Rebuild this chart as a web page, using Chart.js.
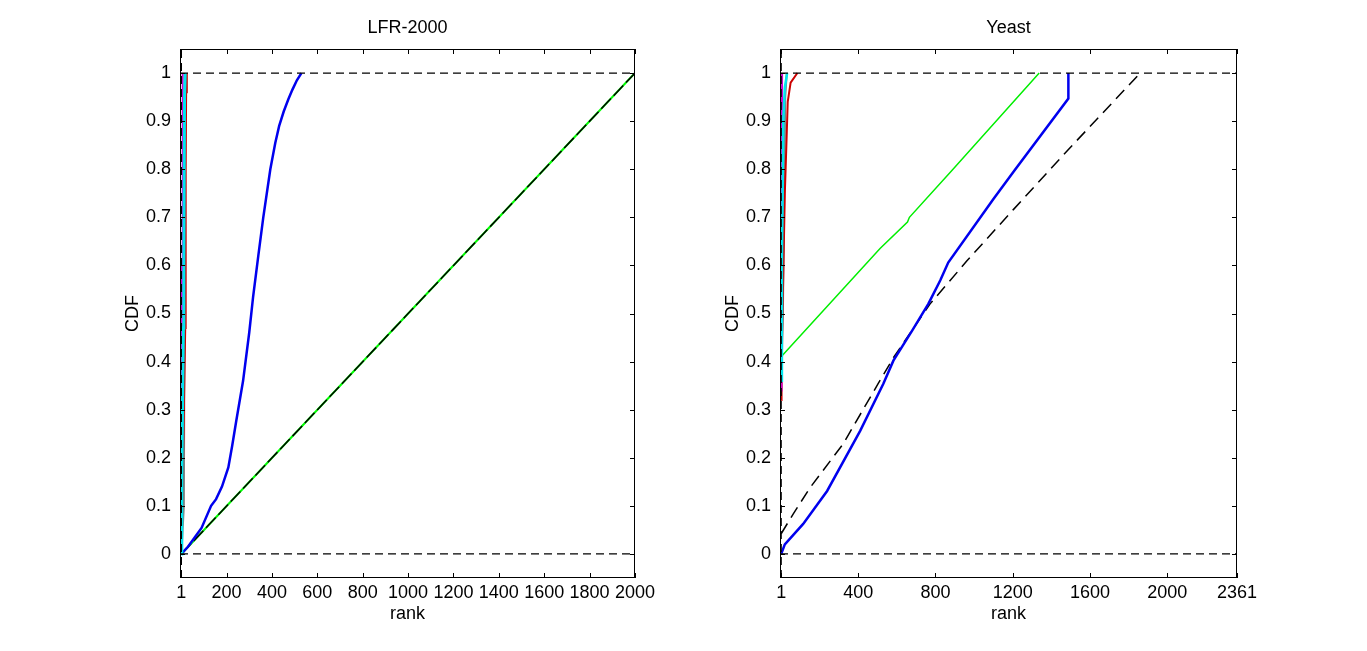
<!DOCTYPE html>
<html>
<head>
<meta charset="utf-8">
<script src="https://cdn.jsdelivr.net/npm/chart.js@4.4.1/dist/chart.umd.min.js"></script>
<style>
  body { margin: 0; background: #fff; width: 1367px; height: 651px; overflow: hidden; }
  .plot { position: absolute; top: 0; width: 683px; height: 651px; }
</style>
</head>
<body>
<div class="plot" style="left:0px"><canvas id="lfr"></canvas></div>
<div class="plot" style="left:600px"><canvas id="yeast"></canvas></div>
<script>
// ---- data ----
const yTicks = [0, 0.1, 0.2, 0.3, 0.4, 0.5, 0.6, 0.7, 0.8, 0.9, 1];
const lfrTicks = [1, 200, 400, 600, 800, 1000, 1200, 1400, 1600, 1800, 2000];
const yeastTicks = [1, 400, 800, 1200, 1600, 2000, 2361];

// LFR-2000
const lfrBlueRank = [1, 30, 58, 90, 132, 154, 180, 208, 225, 243, 273, 300, 317, 340, 362, 393, 415, 432, 452, 472, 490, 510, 530];
const lfrBlueCdf  = [0, 0.015, 0.033, 0.054, 0.1, 0.114, 0.14, 0.18, 0.225, 0.277, 0.36, 0.46, 0.534, 0.62, 0.7, 0.8, 0.855, 0.89, 0.92, 0.945, 0.965, 0.985, 1];
const lfrDiagRank = [1, 2000];
const lfrDiagCdf  = [0, 1];
const lfrRedRank  = [1, 12, 18, 20, 22, 25];
const lfrRedCdf   = [0, 0.3, 0.47, 0.8, 0.96, 1];
const lfrCyanRank = [1, 3, 6, 10, 12, 15, 18];
const lfrCyanCdf  = [0, 0.1, 0.3, 0.47, 0.6, 0.95, 1];
const lfrMagRank  = [1, 2, 4, 6, 8];
const lfrMagCdf   = [0, 0.3, 0.6, 0.95, 1];
const lfrGrayRank = [1, 12, 15, 17];
const lfrGrayCdf  = [0, 0.1, 0.5, 1];

// Yeast
const yBlueRank  = [1, 20, 115, 239, 410, 530, 582, 680, 763, 825, 866, 1100, 1203, 1488, 1488];
const yBlueCdf   = [0, 0.02, 0.0625, 0.131, 0.256, 0.354, 0.402, 0.465, 0.52, 0.569, 0.606, 0.738, 0.794, 0.947, 1];
const yBlackRank = [1, 63, 151, 322, 503, 582, 772, 964, 1203, 1481, 1860];
const yBlackCdf  = [0.042, 0.083, 0.138, 0.229, 0.354, 0.408, 0.52, 0.61, 0.716, 0.838, 1];
const yGreenRank = [1, 513, 655, 665, 886, 1337];
const yGreenCdf  = [0.41, 0.635, 0.69, 0.70, 0.798, 1];
const yRedRank   = [1, 3, 8, 20, 28, 35, 50, 85];
const yRedCdf    = [0.32, 0.35, 0.5, 0.75, 0.85, 0.94, 0.98, 1];
const yCyanRank  = [1, 5, 12, 20, 32];
const yCyanCdf   = [0.36, 0.6, 0.9, 0.97, 1];
const yMagRank   = [1, 3, 6];
const yMagCdf    = [0.34, 0.8, 1];
const yGrayRank  = [1, 10, 18, 22, 30];
const yGrayCdf   = [0.4, 0.5, 0.8, 0.95, 1];

const pts = (xs, ys) => xs.map((x, i) => ({ x: x, y: ys[i] }));

function line(data, color, width, dash, order) {
  return {
    data: data, borderColor: color, borderWidth: width, borderDash: dash || [],
    pointRadius: 0, fill: false, tension: 0, order: order
  };
}

// box and inward ticks, like the original figure
const boxPlugin = {
  id: 'box',
  afterDraw(chart) {
    const { ctx, chartArea: a, scales } = chart;
    ctx.save();
    ctx.strokeStyle = '#000';
    ctx.lineWidth = 1;
    ctx.strokeRect(a.left + 0.5, a.top + 0.5, a.right - a.left - 1, a.bottom - a.top - 1);
    ctx.beginPath();
    scales.x.ticks.forEach(t => {
      const px = Math.round(scales.x.getPixelForValue(t.value)) + 0.5;
      ctx.moveTo(px, a.bottom); ctx.lineTo(px, a.bottom - 5);
      ctx.moveTo(px, a.top); ctx.lineTo(px, a.top + 5);
    });
    scales.y.ticks.forEach(t => {
      const py = Math.round(scales.y.getPixelForValue(t.value)) + 0.5;
      ctx.moveTo(a.left, py); ctx.lineTo(a.left + 5, py);
      ctx.moveTo(a.right, py); ctx.lineTo(a.right - 5, py);
    });
    ctx.stroke();
    ctx.restore();
  }
};

const font = { family: 'Liberation Sans, Arial, sans-serif', size: 18 };

function makeChart(id, title, datasets, xmin, xmax, xticks, padRight) {
  return new Chart(document.getElementById(id), {
    type: 'line',
    data: { datasets: datasets },
    plugins: [boxPlugin],
    options: {
      responsive: true,
      maintainAspectRatio: false,
      animation: false,
      layout: { padding: { top: 0, right: padRight, left: 0, bottom: 0 } },
      plugins: {
        legend: { display: false },
        tooltip: { enabled: false },
        title: {
          display: true, text: title, color: '#000', fullSize: false,
          font: { family: font.family, size: 18, weight: 'normal' },
          padding: { top: 17, bottom: 10.4 }
        }
      },
      scales: {
        x: {
          type: 'linear', min: xmin, max: xmax,
          afterBuildTicks: s => { s.ticks = xticks.map(v => ({ value: v })); },
          afterFit: s => { s.height = 73; },
          grid: { display: false, drawTicks: false },
          border: { display: false },
          ticks: { color: '#000', font: font, padding: 4, maxRotation: 0, autoSkip: false,
                   callback: v => String(v) },
          title: { display: true, text: 'rank', color: '#000', font: font, padding: { top: 0, bottom: 26 } }
        },
        y: {
          type: 'linear', min: -0.05, max: 1.05,
          afterBuildTicks: s => { s.ticks = yTicks.map(v => ({ value: v })); },
          afterFit: s => { s.width = 180; },
          grid: { display: false, drawTicks: false },
          border: { display: false },
          ticks: { color: '#000', font: font, padding: 9,
                   callback: v => String(Number(v.toFixed(1))) },
          title: { display: true, text: 'CDF', color: '#000', font: font, padding: { top: 122, bottom: 0 } }
        }
      }
    }
  });
}

const refDash = [8, 5];

makeChart('lfr', 'LFR-2000', [
  line(pts([-5, 2000], [0, 0]), '#000', 1.3, refDash, 1),
  line(pts([-5, 2000], [1, 1]), '#000', 1.3, refDash, 1),
  line(pts([1, 1], [-0.05, 1.05]), '#000', 1.3, refDash, 1),
  line(pts(lfrDiagRank, lfrDiagCdf), '#00ff00', 2, [], 9),
  line(pts(lfrDiagRank, lfrDiagCdf), '#000', 1.5, [14, 4], 8),
  line(pts(lfrBlueRank, lfrBlueCdf), '#0000ee', 2.5, [], 7),
  line(pts(lfrGrayRank, lfrGrayCdf), '#808080', 2, [], 6),
  line(pts(lfrRedRank, lfrRedCdf), '#cc0000', 2, [], 5),
  line(pts(lfrMagRank, lfrMagCdf), '#cc00cc', 2, [], 4),
  line(pts(lfrCyanRank, lfrCyanCdf), '#00e5ee', 3, [], 3)
], -5, 2000, lfrTicks, 48);

makeChart('yeast', 'Yeast', [
  line(pts([-5, 2361], [0, 0]), '#000', 1.3, refDash, 1),
  line(pts([-5, 2361], [1, 1]), '#000', 1.3, refDash, 1),
  line(pts([1, 1], [-0.05, 1.05]), '#000', 1.3, refDash, 1),
  line(pts(yGreenRank, yGreenCdf), '#00ee00', 1.5, [], 9),
  line(pts(yBlackRank, yBlackCdf), '#000', 1.5, [12, 7], 8),
  line(pts(yBlueRank, yBlueCdf), '#0000ee', 2.5, [], 7),
  line(pts(yGrayRank, yGrayCdf), '#808080', 2, [], 6),
  line(pts(yRedRank, yRedCdf), '#cc0000', 2, [], 5),
  line(pts(yMagRank, yMagCdf), '#cc00cc', 2, [], 4),
  line(pts(yCyanRank, yCyanCdf), '#00e5ee', 2.5, [], 3)
], -5, 2361, yeastTicks, 46);
</script>
</body>
</html>
